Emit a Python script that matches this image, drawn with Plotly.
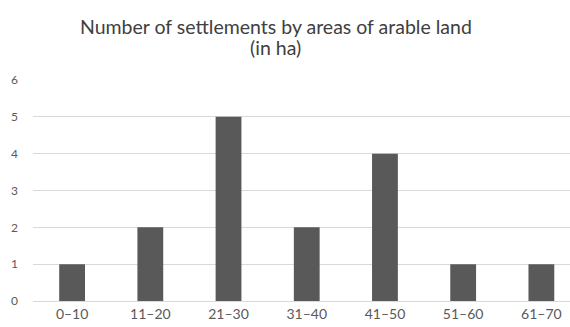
import plotly.graph_objects as go

# Area classes of arable land (ha) and number of settlements in each
categories = ["0–10", "11–20", "21–30", "31–40", "41–50", "51–60", "61–70"]
settlements = [1, 2, 5, 2, 4, 1, 1]
y_ticks = [0, 1, 2, 3, 4, 5, 6]
title_lines = ["Number of settlements by areas of arable land", "(in ha)"]

fig = go.Figure(
    go.Bar(
        x=list(range(len(categories))),
        y=settlements,
        marker=dict(color="#595959", line=dict(width=0)),
        width=0.33,
    )
)

title_font = dict(size=19.5, color="#404040")
fig.update_layout(
    width=570,
    height=327,
    margin=dict(l=33, r=0, t=80, b=26),
    paper_bgcolor="white",
    plot_bgcolor="white",
    showlegend=False,
    font=dict(family="Lato, 'Open Sans', sans-serif", color="#595959"),
    annotations=[
        dict(text=title_lines[0], x=0.4525, xref="paper", xanchor="center",
             y=1.244, yref="paper", yanchor="middle", showarrow=False, font=title_font),
        dict(text=title_lines[1], x=0.4525, xref="paper", xanchor="center",
             y=1.145, yref="paper", yanchor="middle", showarrow=False, font=title_font),
    ],
)

fig.update_xaxes(
    tickmode="array",
    tickvals=list(range(len(categories))),
    ticktext=categories,
    range=[-0.5, 6.366],
    showgrid=False,
    showline=False,
    zeroline=False,
    ticks="",
    ticklabelstandoff=3,
    tickfont=dict(size=14, color="#595959"),
)

fig.update_yaxes(
    range=[0, 6],
    tickmode="array",
    tickvals=y_ticks,
    showgrid=True,
    gridcolor="#d9d9d9",
    gridwidth=1,
    zeroline=True,
    zerolinecolor="#d9d9d9",
    zerolinewidth=1,
    ticks="",
    ticklabelstandoff=14,
    tickfont=dict(size=12, color="#595959"),
)

fig.write_html("out.html")
